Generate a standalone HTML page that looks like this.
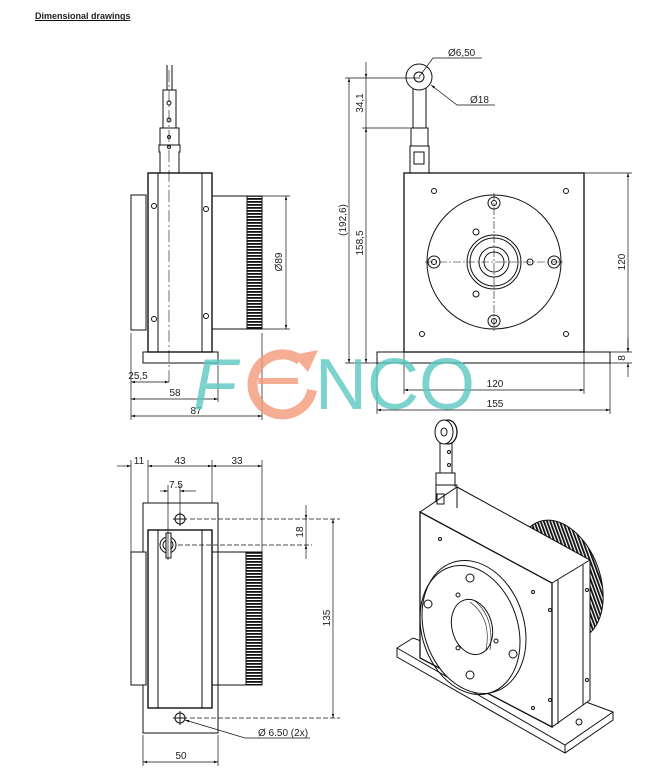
<!DOCTYPE html>
<html><head><meta charset="utf-8"><style>
html,body{margin:0;padding:0;background:#fff;}
svg{display:block;}
text{font-family:"Liberation Sans",sans-serif;fill:#222;}
</style></head><body>
<svg width="657" height="771" viewBox="0 0 657 771" xmlns="http://www.w3.org/2000/svg">
<defs>
<marker id="a" viewBox="0 0 10 10" refX="10" refY="5" markerWidth="6" markerHeight="6" orient="auto-start-reverse"><path d="M0,2 L10,5 L0,8z" fill="#111"/></marker>
<pattern id="k" width="3" height="3" patternUnits="userSpaceOnUse"><rect width="3" height="3" fill="#fff"/><rect width="3" height="1.8" fill="#111"/></pattern>
<pattern id="kv" width="3" height="3" patternUnits="userSpaceOnUse"><rect width="3" height="3" fill="#fff"/><rect width="1.8" height="3" fill="#111"/></pattern>
</defs>
<text x="35" y="19" font-size="9" font-weight="bold" text-decoration="underline">Dimensional drawings</text>
<line x1="35" y1="20.5" x2="127" y2="20.5" stroke="#000" stroke-width="0.8"/>

<g fill="none" stroke="#111" stroke-width="1">
<rect x="131" y="195" width="15" height="135" fill="#fff"/>
<rect x="148" y="173" width="64" height="179" stroke-width="1.4"/>
<line x1="158" y1="173" x2="158" y2="352"/><line x1="202" y1="173" x2="202" y2="352"/>
<rect x="143" y="352" width="75" height="11"/>
<rect x="212" y="196" width="50" height="133"/>
<rect x="247" y="196" width="15" height="133" fill="url(#k)"/>
<path d="M160,173 V152 H159 V145 H180 V152 H179 V173"/>
<rect x="160" y="128" width="19" height="17"/>
<rect x="163" y="90" width="13" height="38"/>
<path d="M167,90 V65 M172,90 V65"/>
<circle cx="169" cy="103" r="2"/><circle cx="169" cy="120" r="2"/><circle cx="169" cy="137" r="1.5"/><circle cx="169" cy="147" r="1.5"/>
<line x1="169" y1="70" x2="169" y2="385" stroke-dasharray="12 3 2 3" stroke-width="0.6"/>
<circle cx="154" cy="206" r="2.5"/><circle cx="206" cy="209" r="2.5"/><circle cx="154" cy="319" r="2.5"/><circle cx="206" cy="316" r="2.5"/>
<g stroke-width="0.7">
<line x1="131" y1="333" x2="131" y2="420"/><line x1="262" y1="333" x2="262" y2="420"/><line x1="218" y1="365" x2="218" y2="402"/>
<line x1="131" y1="382" x2="169" y2="382" marker-start="url(#a)" marker-end="url(#a)"/>
<line x1="131" y1="399" x2="218" y2="399" marker-start="url(#a)" marker-end="url(#a)"/>
<line x1="131" y1="416" x2="262" y2="416" marker-start="url(#a)" marker-end="url(#a)"/>
<line x1="262" y1="196" x2="290" y2="196"/><line x1="262" y1="329" x2="290" y2="329"/>
<line x1="286" y1="196" x2="286" y2="329" marker-start="url(#a)" marker-end="url(#a)"/>
</g>

<rect x="404" y="173" width="180" height="179" stroke-width="1.3"/>
<rect x="377" y="352" width="233" height="11"/>
<circle cx="494" cy="262" r="67"/>
<circle cx="494" cy="262" r="27"/><circle cx="494" cy="262" r="24"/><circle cx="494" cy="262" r="15"/><circle cx="494" cy="262" r="10"/>
<g stroke-dasharray="8 2 2 2" stroke-width="0.6"><line x1="425" y1="262" x2="565" y2="262"/><line x1="494" y1="193" x2="494" y2="332"/></g>
<circle cx="494" cy="203" r="6"/><circle cx="494" cy="203" r="2.5"/>
<circle cx="494" cy="321" r="6"/><circle cx="494" cy="321" r="2.5"/>
<circle cx="434" cy="262" r="6"/><circle cx="434" cy="262" r="2.5"/>
<circle cx="554" cy="262" r="6"/><circle cx="554" cy="262" r="2.5"/>
<circle cx="434" cy="191" r="2.5"/><circle cx="566" cy="191" r="2.5"/><circle cx="422" cy="334" r="2.5"/><circle cx="566" cy="334" r="2.5"/>
<circle cx="476" cy="232" r="3"/><circle cx="530" cy="262" r="3"/><circle cx="476" cy="294" r="3"/>
<rect x="410" y="146" width="19" height="27"/><rect x="411" y="128" width="17" height="18"/>
<rect x="414" y="152" width="10" height="12"/>
<path d="M413,128 V88 M426,128 V88"/>
<circle cx="419" cy="77" r="13" fill="#fff"/><circle cx="419" cy="77" r="5"/>
<g stroke-width="0.7">
<line x1="345" y1="78" x2="420" y2="78"/><line x1="362" y1="128" x2="410" y2="128"/>
<line x1="345" y1="363" x2="377" y2="363"/>
<line x1="349" y1="78" x2="349" y2="363" marker-start="url(#a)" marker-end="url(#a)"/>
<line x1="366" y1="128" x2="366" y2="363" marker-start="url(#a)" marker-end="url(#a)"/>
<line x1="366" y1="62" x2="366" y2="78" marker-end="url(#a)"/>
<line x1="366" y1="78" x2="366" y2="128"/>
<line x1="584" y1="173" x2="632" y2="173"/><line x1="610" y1="352" x2="632" y2="352"/><line x1="610" y1="363" x2="632" y2="363"/>
<line x1="628" y1="173" x2="628" y2="352" marker-start="url(#a)" marker-end="url(#a)"/>
<line x1="628" y1="338" x2="628" y2="352" marker-end="url(#a)"/>
<line x1="628" y1="377" x2="628" y2="363" marker-end="url(#a)"/>
<line x1="404" y1="352" x2="404" y2="394"/><line x1="584" y1="352" x2="584" y2="394"/>
<line x1="377" y1="363" x2="377" y2="414"/><line x1="610" y1="363" x2="610" y2="414"/>
<line x1="404" y1="390" x2="584" y2="390" marker-start="url(#a)" marker-end="url(#a)"/>
<line x1="377" y1="410" x2="610" y2="410" marker-start="url(#a)" marker-end="url(#a)"/>
<path d="M419,77 L433,58 H482"/>
<path d="M431,85 L457,105 H495" marker-start="url(#a)"/>
</g>

<rect x="143" y="503" width="75" height="230"/>
<rect x="131" y="552" width="15" height="133" fill="#fff"/>
<rect x="148" y="530" width="64" height="178" fill="#fff" stroke-width="1.4"/>
<line x1="158" y1="530" x2="158" y2="708"/><line x1="202" y1="530" x2="202" y2="708"/>
<rect x="212" y="552" width="50" height="133"/>
<rect x="246" y="552" width="16" height="133" fill="url(#k)"/>
<circle cx="180" cy="519" r="5"/><line x1="173" y1="519" x2="187" y2="519"/><line x1="180" y1="512" x2="180" y2="526"/>
<circle cx="180" cy="718" r="5"/><line x1="173" y1="718" x2="187" y2="718"/><line x1="180" y1="711" x2="180" y2="725"/>
<circle cx="168" cy="545" r="8"/><circle cx="168" cy="545" r="5"/>
<rect x="166" y="533" width="5" height="25" fill="#fff"/>
<g stroke-width="0.7">
<line x1="131" y1="460" x2="131" y2="552"/><line x1="148" y1="460" x2="148" y2="503"/><line x1="212" y1="460" x2="212" y2="503"/><line x1="262" y1="460" x2="262" y2="552"/>
<line x1="117" y1="466" x2="131" y2="466" marker-end="url(#a)"/>
<line x1="148" y1="466" x2="212" y2="466" marker-start="url(#a)" marker-end="url(#a)"/>
<line x1="212" y1="466" x2="262" y2="466" marker-start="url(#a)" marker-end="url(#a)"/>
<line x1="168" y1="485" x2="168" y2="560"/><line x1="180" y1="485" x2="180" y2="512"/>
<line x1="160" y1="491" x2="168" y2="491" marker-end="url(#a)"/><line x1="196" y1="491" x2="180" y2="491" marker-end="url(#a)"/>
<line x1="190" y1="519" x2="340" y2="519" stroke-dasharray="5 2"/>
<line x1="178" y1="545" x2="312" y2="545" stroke-dasharray="5 2"/>
<line x1="306" y1="505" x2="306" y2="519" marker-end="url(#a)"/>
<line x1="306" y1="559" x2="306" y2="545" marker-end="url(#a)"/>
<line x1="306" y1="519" x2="306" y2="545"/>
<line x1="190" y1="718" x2="340" y2="718" stroke-dasharray="5 2"/>
<line x1="333" y1="519" x2="333" y2="718" marker-start="url(#a)" marker-end="url(#a)"/>
<line x1="143" y1="735" x2="143" y2="766"/><line x1="218" y1="735" x2="218" y2="766"/>
<line x1="143" y1="762" x2="218" y2="762" marker-start="url(#a)" marker-end="url(#a)"/>
<path d="M185,720 L245,738 H310" marker-start="url(#a)"/>
</g>

<path d="M397,648 L413,638 L613,712 L613,720 L565,753 L397,657 Z" fill="#fff"/>
<path d="M397,648 L565,745 L613,712 M565,745 V753"/>
<ellipse cx="560" cy="580" rx="40" ry="62" transform="rotate(-20 560 580)" fill="url(#kv)"/>
<path d="M420,512 L457,487 L590,560 L590,700 L552,727 Z" fill="#fff"/>
<path d="M420,512 L552,583 L552,727 L420,658 Z" fill="#fff" stroke-width="1.3"/>
<path d="M552,583 L590,560"/>
<line x1="558" y1="580" x2="558" y2="724"/><line x1="583" y1="565" x2="583" y2="705"/>
<circle cx="550" cy="610" r="1.5"/><circle cx="550" cy="700" r="1.5"/><circle cx="587" cy="590" r="1.5"/><circle cx="587" cy="680" r="1.5"/>
<circle cx="440" cy="539" r="1.5"/><circle cx="533" cy="592" r="1.5"/><circle cx="533" cy="708" r="1.5"/><circle cx="432" cy="649" r="1.5"/>
<ellipse cx="474" cy="627" rx="50" ry="68" transform="rotate(-18 474 627)" fill="#fff"/>
<ellipse cx="470" cy="630" rx="48" ry="66" transform="rotate(-18 470 630)"/>
<ellipse cx="472" cy="627" rx="20" ry="28" transform="rotate(-15 472 627)"/>
<path d="M470,602 Q492,618 486,650" stroke-width="0.6"/><path d="M475,601 Q495,618 490,650" stroke-width="0.6"/>
<circle cx="470" cy="578" r="4"/><circle cx="428" cy="604" r="4"/><circle cx="513" cy="654" r="4"/><circle cx="470" cy="675" r="4"/>
<circle cx="458" cy="595" r="2"/><circle cx="458" cy="648" r="2"/><circle cx="496" cy="641" r="2"/>
<circle cx="579" cy="722" r="3"/>
<path d="M436,502 V485 H457 V508"/><path d="M436,485 V473 H455 V487"/><rect x="437" y="494" width="7" height="10"/>
<path d="M440,473 V440 M452,473 V440"/><circle cx="449" cy="452" r="1.5"/><circle cx="449" cy="465" r="1.5"/>
<ellipse cx="448" cy="432" rx="9" ry="12" fill="#fff" stroke-width="1.3"/><ellipse cx="444" cy="432" rx="9" ry="12" fill="#fff"/>
<ellipse cx="444" cy="432" rx="3" ry="4"/>
</g>

<g font-size="10">
<text x="138" y="379" text-anchor="middle">25,5</text>
<text x="175" y="396" text-anchor="middle">58</text>
<text x="196" y="414" text-anchor="middle">87</text>
<text transform="translate(282,262) rotate(-90)" text-anchor="middle">Ø89</text>
<text x="448" y="56">Ø6,50</text>
<text x="470" y="103">Ø18</text>
<text transform="translate(363,103) rotate(-90)" text-anchor="middle">34,1</text>
<text transform="translate(346,220) rotate(-90)" text-anchor="middle">(192,6)</text>
<text transform="translate(363,243) rotate(-90)" text-anchor="middle">158,5</text>
<text transform="translate(625,262) rotate(-90)" text-anchor="middle">120</text>
<text transform="translate(625,358) rotate(-90)" text-anchor="middle">8</text>
<text x="495" y="387" text-anchor="middle">120</text>
<text x="495" y="407" text-anchor="middle">155</text>
<text x="139" y="464" text-anchor="middle">11</text>
<text x="180" y="464" text-anchor="middle">43</text>
<text x="237" y="464" text-anchor="middle">33</text>
<text x="176" y="488" text-anchor="middle">7.5</text>
<text transform="translate(303,532) rotate(-90)" text-anchor="middle">18</text>
<text transform="translate(330,618) rotate(-90)" text-anchor="middle">135</text>
<text x="258" y="736">Ø 6.50 (2x)</text>
<text x="181" y="759" text-anchor="middle">50</text>
</g>

<g opacity="0.8">
<text x="193" y="409" font-size="72" style="fill:#5cc8c0" font-style="italic">F</text>
<text x="315" y="409" font-size="72" style="fill:#5cc8c0">NCO</text>
<path d="M300,360 A30,30 0 1,0 312,390" fill="none" stroke="#f39a7a" stroke-width="10"/>
<path d="M293,355 L318,350 L308,372 Z" fill="#f39a7a"/>
<rect x="258" y="378" width="40" height="6" fill="#f39a7a"/>
</g>
</svg>
</body></html>
